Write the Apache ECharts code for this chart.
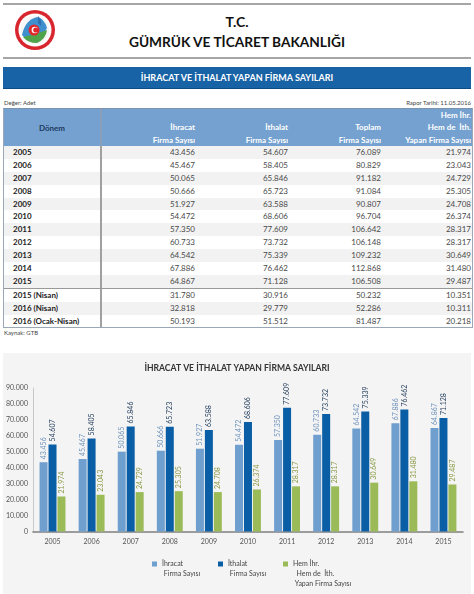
<!DOCTYPE html>
<html>
<head>
<meta charset="utf-8">
<script src="https://cdn.jsdelivr.net/npm/echarts@6/dist/echarts.min.js"></script>
<style>
  html, body { margin:0; padding:0; background:#fff; width:474px; height:594px; overflow:hidden; font-family: Lato, "Open Sans", "DejaVu Sans", sans-serif; }
  .abs { position:absolute; }
  .hline { position:absolute; left:3px; width:468px; height:2px; background:#a6a6a6; }
  #tc { left:0; width:474px; top:13px; text-align:center; font-weight:bold; font-size:14px; color:#111; line-height:18px; }
  #bak { left:0; width:474px; top:33px; text-align:center; font-weight:bold; font-size:13.7px; color:#111; line-height:18px; }
  #bar { left:3px; top:67px; width:468px; height:21px; background:#1763a6; border-bottom:1px solid #0c4c84; color:#fff; font-weight:bold; font-size:9px; text-align:center; line-height:22px; }
  .small { font-size:6px; color:#444; }
  #tbl { position:absolute; left:3px; top:108px; width:468px; border-left:1px solid #9aa7b6; border-right:1px solid #9aa7b6; border-top:1px solid #7d93ad; border-bottom:1px solid #9aa7b6; }
  .row { position:relative; height:12.9px; font-size:8px; color:#4a4a4a; line-height:13px; }
  .row div { position:absolute; top:0; }
  .yc { left:9px; font-weight:bold; color:#222; }
  .sep { position:absolute; left:96px; top:0; width:2px; height:100%; background:#a0a0a0; }
  #head { position:relative; height:37px; background:#74a1cf; font-size:8px; font-weight:bold; color:#fff; line-height:12.3px; }
  #head .c { position:absolute; top:0; text-align:right; }
  #chart { position:absolute; left:3px; top:353px; width:468px; height:241px; background:#f4f4f4; }
</style>
</head>
<body>
<div class="hline" style="top:3px;"></div>
<svg class="abs" style="left:13px;top:8px;" width="44" height="44" viewBox="0 0 44 44">
  <circle cx="22" cy="22" r="20" fill="#d8262e"/>
  <circle cx="22" cy="22" r="16.5" fill="#fff"/>
  <circle cx="22" cy="22" r="14.5" fill="#f7f7f7"/>
  <path d="M9 27 Q12 12 24 9 Q31 10 34 20 Q30 30 18 31 Q12 31 9 27 Z" fill="#3f8fcf"/>
  <path d="M10 29 Q20 27 34 22 Q33 31 24 35 Q15 35 10 29 Z" fill="#4fa34a"/>
  <path d="M25 8 Q29 12 28 18 L25 15 Z" fill="#2f6fb0"/>
  <circle cx="21" cy="22" r="5.5" fill="#e0252b"/>
  <circle cx="21.8" cy="22" r="3.2" fill="#fff"/>
  <circle cx="22.8" cy="22" r="2.6" fill="#e0252b"/>
</svg>
<div id="tc" class="abs">T.C.</div>
<div id="bak" class="abs">GÜMRÜK VE TİCARET BAKANLIĞI</div>
<div class="hline" style="top:57px;"></div>
<div id="bar" class="abs">İHRACAT VE İTHALAT YAPAN FİRMA SAYILARI</div>
<div class="abs small" style="left:4px;top:99px;">Değer: Adet</div>
<div class="abs small" style="right:3px;top:99px;">Rapor Tarihi: 11.05.2016</div>
<div id="tbl"></div>
<div class="abs small" style="left:4px;top:329px;">Kaynak: GTB</div>
<div id="chart"></div>
<script>
// ---- data ----
const years = ['2005','2006','2007','2008','2009','2010','2011','2012','2013','2014','2015'];
const ihracat = [43456,45467,50065,50666,51927,54472,57350,60733,64542,67886,64867];
const ithalat = [54607,58405,65846,65723,63588,68606,77609,73732,75339,76462,71128];
const toplam  = [76089,80829,91182,91084,90807,96704,106642,106148,109232,112868,106508];
const hemHem  = [21974,23043,24729,25305,24708,26374,28317,28317,30649,31480,29487];
const periods = ['2015 (Nisan)','2016 (Nisan)','2016 (Ocak-Nisan)'];
const pIhracat = [31780,32818,50193];
const pIthalat = [30916,29779,51512];
const pToplam  = [50232,52286,81487];
const pHemHem  = [10351,10311,20218];
const seriesNames = ['İhracat\n Firma Sayısı','İthalat\n Firma Sayısı','Hem İhr.\n  Hem de  İth.\n Yapan Firma Sayısı'];
const yTicks = {min:0, max:90000, interval:10000};

function fmt(n){ return String(n).replace(/\B(?=(\d{3})+(?!\d))/g,'.'); }

// ---- table ----
const colRight = [189, 282, 375, 465]; // right edges (relative to table)
const tbl = document.getElementById('tbl');
let h = '<div id="head"><div class="sep" style="background:#8aa0b8"></div>' +
  '<div class="c" style="left:0;width:96px;text-align:center;top:13px;color:#1d3a5f;">Dönem</div>';
const heads = [['','İhracat','Firma Sayısı'],['','İthalat','Firma Sayısı'],['','Toplam','Firma Sayısı'],['Hem İhr.','Hem de &nbsp;İth.','Yapan Firma Sayısı']];
heads.forEach((hd,i)=>{
  h += '<div class="c" style="right:'+(466-colRight[i])+'px;">'+hd.map(s=>s||'&nbsp;').join('<br>')+'</div>';
});
h += '</div>';
function rowHtml(label, vals, idx, extraStyle){
  let s = '<div class="row" style="background:'+(idx%2===0?'#f2f2f2':'#ffffff')+';'+(extraStyle||'')+'"><div class="sep"></div><div class="yc">'+label+'</div>';
  vals.forEach((v,i)=>{ s += '<div style="right:'+(466-colRight[i])+'px;">'+fmt(v)+'</div>'; });
  return s + '</div>';
}
years.forEach((y,i)=>{ h += rowHtml(y,[ihracat[i],ithalat[i],toplam[i],hemHem[i]], i); });
periods.forEach((p,i)=>{ h += rowHtml(p,[pIhracat[i],pIthalat[i],pToplam[i],pHemHem[i]], i+1, i===0?'border-top:1.5px solid #999;':''); });
tbl.innerHTML = h;

// ---- chart ----
const colors = ['#6f9fcf','#0a5ea5','#9bbb59'];
const labelColors = ['#6f93bd','#1f3a5a','#8a9a45'];
const vals = [ihracat, ithalat, hemHem];
const chart = echarts.init(document.getElementById('chart'), null, {renderer:'canvas'});
const font = 'Lato, "Open Sans", sans-serif';
const legendLines = [2,2,3];
chart.setOption({
  animation:false,
  backgroundColor:'#f4f4f4',
  textStyle:{fontFamily:font},
  title:{ text:'İHRACAT VE İTHALAT YAPAN FİRMA SAYILARI', left:'center', top:6,
    textStyle:{fontSize:8.6, fontWeight:'bold', color:'#333', fontFamily:font} },
  legend: seriesNames.map((n,i)=>{
    const H = legendLines[i]*10;
    // square sits at the first text line; degenerate points stretch the box to the text height
    const icon = 'path://M0 0L0.01 0M0 2.5L5 2.5L5 7.5L0 7.5ZM0 '+H+'L0.01 '+H;
    return {
      data:[{name:n, icon:icon}], left:[149,215,280][i], top:206, orient:'horizontal', padding:0,
      itemWidth:5, itemHeight:H, itemGap:4, selectedMode:false,
      textStyle:{fontSize:7, color:'#444', lineHeight:10, fontFamily:font}
    };
  }),
  grid:{ left:29, right:8, top:35, bottom:62.5 },
  xAxis:{ type:'category', data:years,
    axisLine:{lineStyle:{color:'#7f7f7f', width:1.5}}, axisTick:{show:false},
    axisLabel:{fontSize:7, color:'#555', margin:7, fontFamily:font} },
  yAxis:{ type:'value', min:yTicks.min, max:yTicks.max, interval:yTicks.interval,
    axisLine:{show:true, lineStyle:{color:'#c8c8c8'}}, axisTick:{show:false}, splitLine:{show:false},
    axisLabel:{fontSize:7, color:'#555', margin:5, formatter:v=>fmt(v), fontFamily:font} },
  series: seriesNames.map((n,i)=>({
    name:n, type:'bar', data:vals[i], barWidth:8, barGap:'12%',
    itemStyle:{color:colors[i]},
    label:{show:true, position:'top', rotate:90, align:'left', verticalAlign:'middle', distance:3,
      fontSize:7, color:labelColors[i], formatter:p=>fmt(p.value), fontFamily:font}
  }))
});
</script>
</body>
</html>
